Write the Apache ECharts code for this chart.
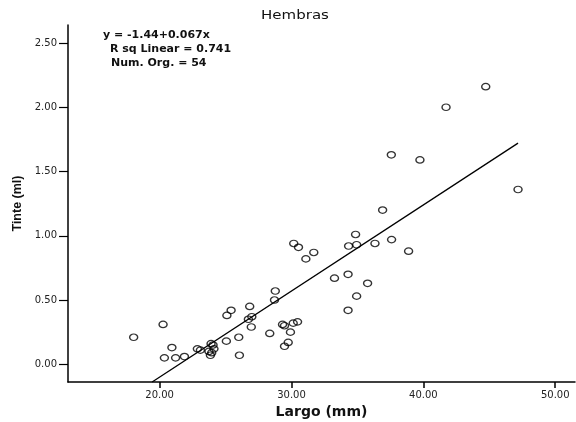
<!DOCTYPE html>
<html>
<head>
<meta charset="utf-8">
<script src="https://cdn.jsdelivr.net/npm/echarts@6/dist/echarts.min.js"></script>
<style>
  html, body { margin: 0; padding: 0; background: #fff; }
  #chart { width: 576px; height: 422px; }
</style>
</head>
<body>
<div id="chart"></div>
<script>
// largo (mm) / tinte (ml) per organism
const largo = [
  18.03, 20.26, 20.93, 20.36, 21.21, 21.88, 22.86, 23.09,
  23.90, 23.74, 24.12, 23.85, 23.95, 24.05,
  25.06, 26.0, 26.05, 25.10, 25.42, 26.83, 26.73, 26.99, 26.95,
  28.35, 28.71, 28.77, 29.32, 29.47, 30.13, 30.46, 29.92, 29.75, 29.47,
  30.17, 30.53, 31.69, 31.09, 33.26, 34.29, 34.29, 35.77, 34.94,
  34.86, 34.33, 34.94, 36.33, 37.59, 38.88, 36.91, 37.57, 39.74,
  41.72, 44.73, 47.18,
]
const tinte = [
  0.21, 0.31, 0.13, 0.05, 0.05, 0.06, 0.12, 0.11,
  0.16, 0.10, 0.12, 0.07, 0.09, 0.15,
  0.18, 0.21, 0.07, 0.38, 0.42, 0.45, 0.35, 0.37, 0.29,
  0.24, 0.50, 0.57, 0.31, 0.30, 0.32, 0.33, 0.25, 0.17, 0.14,
  0.94, 0.91, 0.87, 0.82, 0.67, 0.70, 0.42, 0.63, 0.53,
  1.01, 0.92, 0.93, 0.94, 0.97, 0.88, 1.20, 1.63, 1.59,
  2.00, 2.16, 1.36,
]
const xTicks = [20, 30, 40, 50]
const yTicks = [0, 0.5, 1.0, 1.5, 2.0, 2.5]
const notes = ['y = -1.44+0.067x', 'R sq Linear = 0.741', 'Num. Org. = 54']

// fit line from the legend: y = -1.44 + 0.067x
const intercept = -1.44
const slope = 0.067
const fitX = [19.43, 47.18]

const chart = echarts.init(document.getElementById('chart'), null, { renderer: 'canvas' })

const axisText = {
  color: '#222',
  fontSize: 10,
  fontFamily: 'DejaVu Sans',
}

const noteX = [103, 110, 111]
const noteY = [35, 49.3, 63.3]

const option = {
  backgroundColor: '#fff',
  animation: false,
  grid: {
    left: 68,
    right: 1,
    top: 25,
    bottom: 40,
    outerBoundsMode: 'none',
  },
  xAxis: {
    type: 'value',
    min: 13.05,
    max: 51.5,
    name: 'Largo (mm)',
    nameLocation: 'middle',
    nameGap: 19,
    nameTextStyle: {
      fontFamily: 'DejaVu Sans',
      fontWeight: 'bold',
      fontSize: 14,
      color: '#111',
    },
    splitLine: { show: false },
    axisLine: { onZero: false, lineStyle: { color: '#000', width: 1.5 } },
    axisTick: {
      length: 6,
      customValues: xTicks,
      lineStyle: { color: '#000', width: 1.5 },
    },
    axisLabel: Object.assign({}, axisText, {
      margin: 8,
      customValues: xTicks,
      formatter: (v) => v.toFixed(2),
    }),
  },
  yAxis: {
    type: 'value',
    min: -0.138,
    max: 2.64,
    name: 'Tinte (ml)',
    nameLocation: 'middle',
    nameGap: 44,
    nameRotate: 90,
    nameTextStyle: {
      fontFamily: 'Liberation Sans',
      fontWeight: 'bold',
      fontSize: 12.5,
      color: '#111',
    },
    splitLine: { show: false },
    axisLine: { onZero: false, lineStyle: { color: '#000', width: 1.5 } },
    axisTick: {
      length: 9,
      customValues: yTicks,
      lineStyle: { color: '#000', width: 1.2 },
    },
    axisLabel: Object.assign({}, axisText, {
      margin: 11,
      customValues: yTicks,
      formatter: (v) => v.toFixed(2),
    }),
  },
  graphic: [
    {
      type: 'text',
      x: 295,
      y: 16,
      scaleX: 1.25,
      style: {
        text: 'Hembras',
        font: '12px "DejaVu Sans"',
        fill: '#111',
        align: 'center',
        verticalAlign: 'middle',
      },
    },
  ].concat(notes.map((t, i) => ({
    type: 'text',
    x: noteX[i],
    y: noteY[i],
    style: {
      text: t,
      font: 'bold 11px "DejaVu Sans"',
      fill: '#111',
      verticalAlign: 'middle',
    },
  }))),
  series: [
    {
      type: 'line',
      data: fitX.map((x) => [x, intercept + slope * x]),
      symbol: 'none',
      lineStyle: { color: '#000', width: 1.3 },
      z: 2,
    },
    {
      type: 'scatter',
      data: largo.map((x, i) => [x, tinte[i]]),
      symbol: 'circle',
      symbolSize: [8, 6.5],
      itemStyle: {
        color: 'rgba(255,255,255,0)',
        borderColor: '#000',
        borderWidth: 1.3,
      },
      z: 3,
    },
  ],
}

chart.setOption(option)
</script>
</body>
</html>
